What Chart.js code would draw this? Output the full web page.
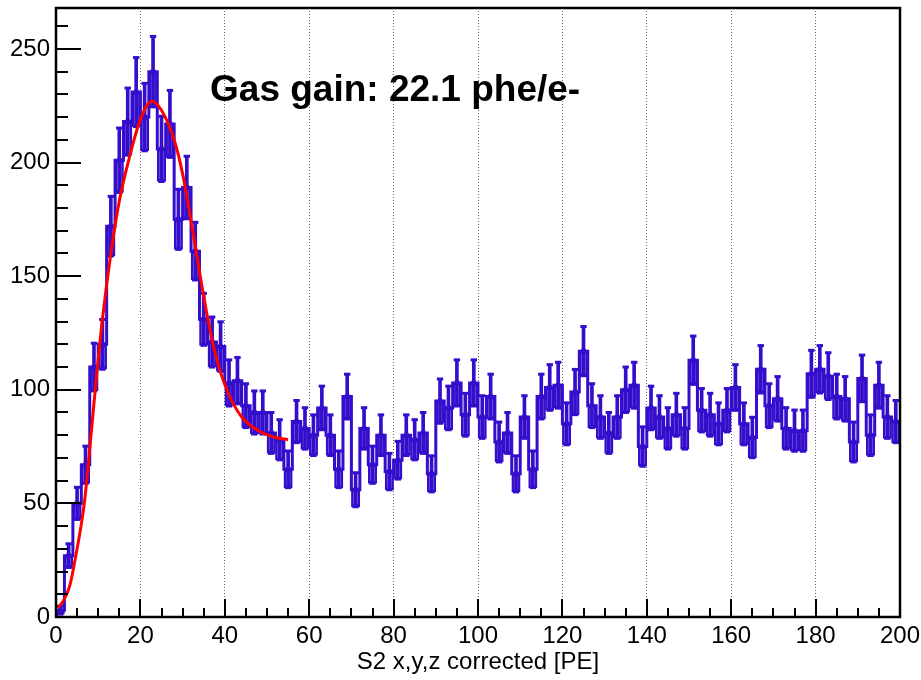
<!DOCTYPE html>
<html>
<head>
<meta charset="utf-8">
<script src="https://cdn.jsdelivr.net/npm/chart.js@4.4.1/dist/chart.umd.min.js"></script>
<style>
  html, body { margin: 0; padding: 0; background: #fff; }
  #wrap { width: 921px; height: 680px; }
</style>
</head>
<body>
<div id="wrap"><canvas id="c"></canvas></div>
<script>
// S2 spectrum (x,y,z corrected), 2 PE bins from 0 to 200 PE
const binWidth = 2;
const counts = [
    3,  27,  50,  67, 110, 120, 172, 201, 218, 231,
  220, 240, 206, 217, 175, 189, 161, 131, 121, 119,
  103, 104,  93,  90,  90,  81,  78,  65,  86,  83,
   80,  92,  80,  65,  97,  56,  83,  67,  80,  64,
   69,  80,  78,  81,  63,  95,  92, 103,  89, 103,
   88,  97,  77,  81,  63,  88,  65,  97, 101, 102,
   85,  99, 117,  93,  88,  81,  88, 100, 102,  75,
   92,  88,  83,  89,  83, 113,  91,  89,  85,  91,
  101,  85,  79, 109,  93,  96,  83,  82,  82, 107,
  109, 106,  97,  96,  77, 105,  80, 102,  88,  86
];

// fitted single-electron peak
const fitX = [0.5, 2, 3.3, 4.5, 6.7, 8.3, 9.5, 11,  13,  15,  17.5, 20,  22.7, 25,  28,  30,  32.4, 34,  36,  38,  40.7, 44, 48, 52, 55];
const fitY = [4,   8, 14,  25,  50,  80, 104, 131, 160, 183, 203,  219, 227,  223, 210, 195, 170,  152, 131, 114, 99,   88, 82, 79, 78];

const gainLabel = 'Gas gain: 22.1 phe/e-';
const xTitle = 'S2 x,y,z corrected [PE]';

const histColor = 'rgb(52, 14, 204)';
const boxFill = 'rgb(178, 170, 228)';
const fontFamily = '"Liberation Sans", Arial, Helvetica, sans-serif';

// per-bin points: centre, value and Poisson uncertainty
const centres = counts.map((_, i) => i * binWidth + binWidth / 2);
const errs = counts.map(v => Math.sqrt(v));

// outline: each value held from the bin's low edge to its high edge
const stepData = [{ x: 0, y: 0 }];
counts.forEach((v, i) => stepData.push({ x: i * binWidth, y: v }, { x: (i + 1) * binWidth, y: v }));

const boxData = counts.map((v, i) => ({ x: centres[i], y: [v - errs[i], v] }));
const barData = counts.map((v, i) => ({ x: centres[i], y: [v - errs[i], v + errs[i]] }));
const capHi = counts.map((v, i) => ({ x: centres[i], y: v + errs[i] }));
const capLo = counts.map((v, i) => ({ x: centres[i], y: v - errs[i] }));
const markers = counts.map((v, i) => ({ x: centres[i], y: v }));
const fitData = fitX.map((x, i) => ({ x, y: fitY[i] }));

// inward ticks, frame and the gain annotation
const frameTicks = {
  id: 'frameTicks',
  afterDatasetsDraw(chart) {
    const { ctx, chartArea: a, scales: { x, y } } = chart;
    ctx.save();
    ctx.strokeStyle = '#000';
    ctx.lineWidth = 2;
    ctx.beginPath();
    for (let v = 0; v <= 200; v += 5) {
      const px = Math.round(x.getPixelForValue(v));
      const len = v % 20 === 0 ? 18 : 9;
      ctx.moveTo(px, a.bottom);
      ctx.lineTo(px, a.bottom - len);
    }
    for (let v = 0; v <= 260; v += 10) {
      const py = Math.round(y.getPixelForValue(v));
      const len = v % 50 === 0 ? 25 : 12;
      ctx.moveTo(a.left, py);
      ctx.lineTo(a.left + len, py);
    }
    ctx.stroke();
    ctx.lineWidth = 2.5;
    ctx.strokeRect(a.left, a.top, a.right - a.left, a.bottom - a.top);

    ctx.fillStyle = '#000';
    ctx.font = 'bold 37px ' + fontFamily;
    ctx.textBaseline = 'alphabetic';
    ctx.textAlign = 'left';
    ctx.fillText(gainLabel, x.getPixelForValue(36.5), y.getPixelForValue(227));
    ctx.restore();
  }
};

new Chart(document.getElementById('c'), {
  type: 'line',
  data: {
    datasets: [
      { type: 'line', data: fitData, borderColor: '#ff0000', borderWidth: 3,
        pointRadius: 0, cubicInterpolationMode: 'monotone', order: 0 },
      { type: 'scatter', data: markers, pointStyle: 'rect', pointRadius: 3.3,
        backgroundColor: histColor, borderColor: histColor, borderWidth: 0, order: 1 },
      { type: 'line', data: stepData, borderColor: histColor, borderWidth: 3,
        pointRadius: 0, fill: false, tension: 0, order: 2 },
      { type: 'scatter', data: capHi, pointStyle: 'line', pointRadius: 3.2,
        borderColor: histColor, borderWidth: 3, order: 3 },
      { type: 'scatter', data: capLo, pointStyle: 'line', pointRadius: 3.2,
        borderColor: histColor, borderWidth: 3, order: 3 },
      { type: 'bar', data: barData, barThickness: 3, grouped: false,
        backgroundColor: histColor, borderWidth: 0, order: 4 },
      { type: 'bar', data: boxData, grouped: false, barPercentage: 1, categoryPercentage: 1,
        backgroundColor: boxFill, borderColor: histColor, borderWidth: 2.5,
        borderSkipped: false, order: 5 }
    ]
  },
  options: {
    responsive: true,
    maintainAspectRatio: false,
    animation: false,
    layout: { padding: { left: 0, right: 21, top: 8, bottom: 0 } },
    plugins: { legend: { display: false }, tooltip: { enabled: false } },
    scales: {
      x: {
        type: 'linear', min: 0, max: 200, offset: false,
        ticks: { stepSize: 20, includeBounds: false, padding: 5, color: '#000',
                 font: { family: fontFamily, size: 24 }, maxRotation: 0 },
        grid: {
          offset: false, drawTicks: false, lineWidth: 1,
          color: ctx => (ctx.tick && (ctx.tick.value === 0 || ctx.tick.value === 200)) ? 'rgba(0,0,0,0)' : '#666'
        },
        border: { display: false, dash: [1, 2] },
        title: { display: true, text: xTitle, color: '#000',
                 font: { family: fontFamily, size: 24 }, padding: { top: 0, bottom: 3 } },
        afterFit: s => { s.height = 63; s.paddingLeft = 0; s.paddingRight = 0; }
      },
      y: {
        type: 'linear', min: 0, max: 268,
        ticks: { stepSize: 50, includeBounds: false, padding: 6, color: '#000',
                 font: { family: fontFamily, size: 24 } },
        grid: { display: false, drawTicks: false },
        border: { display: false },
        afterFit: s => { s.width = 56; s.paddingTop = 0; s.paddingBottom = 0; }
      }
    }
  },
  plugins: [frameTicks]
});
</script>
</body>
</html>
